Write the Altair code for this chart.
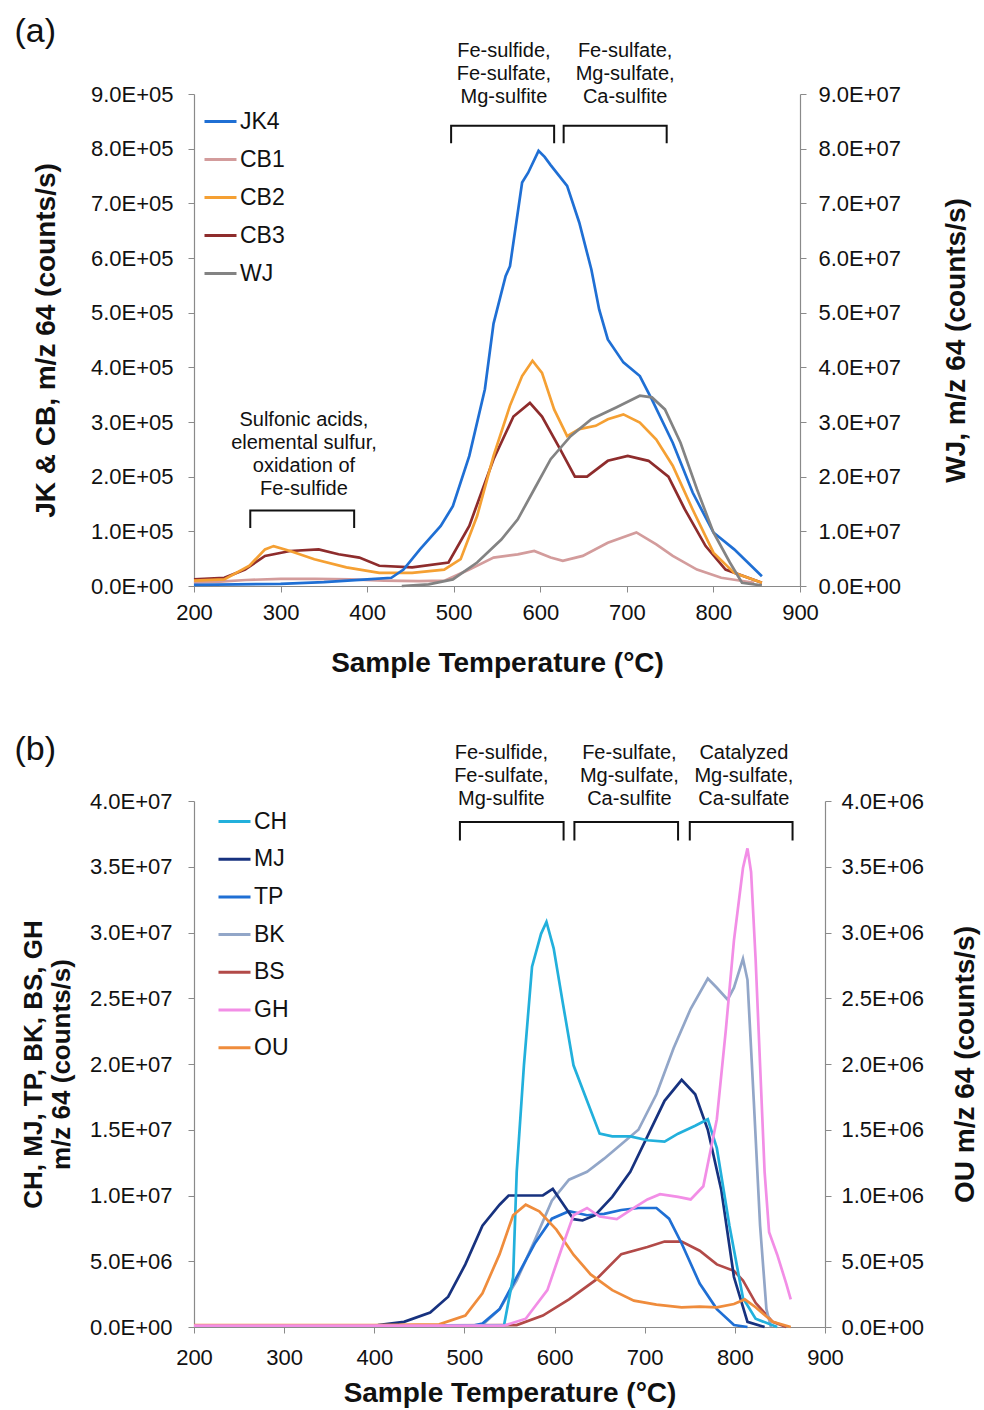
import altair as alt
import pandas as pd

FONT = "Liberation Sans"
INK = "#111111"
AXIS_GRAY = "#8a8a8a"

# ---------------- Panel (a) data ----------------
a_names = ["JK4", "CB1", "CB2", "CB3", "WJ"]
a_colors = ["#1f6fd4", "#d39c9c", "#f5a033", "#8e2c2c", "#838383"]

jk4_t = [200, 250, 300, 350, 400, 428, 442, 461, 485, 499, 518, 536, 546, 560, 565, 579, 586, 598, 605, 612,
         631, 645, 659, 668, 678, 696, 715, 729, 753, 776, 800, 824, 856]
jk4_v = [2e3, 3e3, 4e3, 7e3, 1.2e4, 1.5e4, 3.0e4, 6.7e4, 1.1e5, 1.46e5, 2.38e5, 3.6e5, 4.8e5, 5.67e5, 5.85e5,
         7.38e5, 7.56e5, 7.96e5, 7.85e5, 7.7e5, 7.32e5, 6.65e5, 5.79e5, 5.06e5, 4.51e5, 4.09e5, 3.84e5, 3.41e5,
         2.62e5, 1.71e5, 9.8e4, 6.7e4, 1.8e4]

cb1_t = [200, 230, 260, 300, 340, 380, 420, 460, 490, 518, 546, 574, 593, 612, 626, 649, 678, 711, 734, 753,
         781, 809, 847]
cb1_v = [6e3, 8e3, 1.1e4, 1.3e4, 1.3e4, 1.2e4, 1.0e4, 9e3, 1.0e4, 3.0e4, 5.2e4, 5.8e4, 6.4e4, 5.2e4, 4.6e4,
         5.5e4, 7.9e4, 9.8e4, 7.6e4, 5.5e4, 3.0e4, 1.5e4, 6e3]

cb2_t = [200, 235, 264, 282, 292, 311, 339, 376, 414, 452, 489, 508, 527, 546, 565, 579, 591, 602, 616, 631,
         645, 664, 678, 696, 715, 734, 753, 776, 800, 824, 856]
cb2_v = [1.0e4, 1.2e4, 3.7e4, 6.7e4, 7.3e4, 6.4e4, 4.9e4, 3.4e4, 2.4e4, 2.4e4, 3.0e4, 4.9e4, 1.28e5, 2.38e5,
         3.3e5, 3.84e5, 4.12e5, 3.9e5, 3.23e5, 2.74e5, 2.87e5, 2.93e5, 3.05e5, 3.14e5, 2.99e5, 2.68e5, 2.2e5,
         1.4e5, 6.1e4, 2.4e4, 6e3]

cb3_t = [200, 235, 259, 282, 311, 344, 367, 391, 414, 452, 494, 518, 546, 569, 588, 602, 621, 640, 654, 678,
         701, 725, 748, 767, 791, 814, 856]
cb3_v = [1.2e4, 1.5e4, 3.0e4, 5.5e4, 6.4e4, 6.7e4, 5.8e4, 5.2e4, 3.7e4, 3.4e4, 4.3e4, 1.1e5, 2.32e5, 3.1e5,
         3.35e5, 3.1e5, 2.56e5, 2.0e5, 2.0e5, 2.29e5, 2.38e5, 2.29e5, 2.0e5, 1.4e5, 7.3e4, 3.0e4, 6e3]

wj_t = [440, 471, 499, 527, 555, 574, 593, 612, 635, 659, 687, 715, 729, 744, 762, 781, 800, 819, 833, 856]
wj_v = [0, 3e5, 1.2e6, 4.3e6, 8.5e6, 1.22e7, 1.77e7, 2.32e7, 2.74e7, 3.05e7, 3.26e7, 3.48e7, 3.45e7, 3.23e7,
        2.62e7, 1.77e7, 9.8e6, 4.3e6, 6e5, 1e5]

a_left_ticks = [0, 1e5, 2e5, 3e5, 4e5, 5e5, 6e5, 7e5, 8e5, 9e5]
a_right_ticks = [0, 1e7, 2e7, 3e7, 4e7, 5e7, 6e7, 7e7, 8e7, 9e7]

a_note_labels = ["Fe-sulfide,\nFe-sulfate,\nMg-sulfite",
                 "Fe-sulfate,\nMg-sulfate,\nCa-sulfite",
                 "Sulfonic acids,\nelemental sulfur,\noxidation of\nFe-sulfide"]
a_note_t = [558, 698, 327]
a_note_v = [9.787e5, 9.787e5, 3.037e5]
a_br_t1 = [497, 627, 265]
a_br_t2 = [616, 746, 385]
a_br_top = [8.42e5, 8.42e5, 1.38e5]
a_br_bot = [8.1e5, 8.1e5, 1.06e5]

# ---------------- Panel (b) data ----------------
b_names = ["CH", "MJ", "TP", "BK", "BS", "GH", "OU"]
b_colors = ["#22b0dc", "#17327f", "#1f6fd4", "#92a6c8", "#b24a48", "#f28ee6", "#ef8c3c"]

ch_t = [200, 300, 400, 500, 544, 554, 558, 566, 575, 585, 591, 599, 609, 621, 636, 650, 664, 684, 703, 722,
        737, 756, 770, 780, 794, 809, 823, 847]
ch_v = [1e5, 1e5, 1e5, 1e5, 1.5e5, 3.8e6, 1.18e7, 1.99e7, 2.74e7, 2.99e7, 3.08e7, 2.88e7, 2.47e7, 1.99e7,
        1.72e7, 1.47e7, 1.45e7, 1.45e7, 1.42e7, 1.41e7, 1.47e7, 1.53e7, 1.58e7, 1.36e7, 7.7e6, 2.2e6, 6.3e5, 0]

mj_t = [200, 300, 404, 433, 462, 482, 501, 520, 539, 549, 568, 587, 598, 607, 621, 631, 645, 664, 684, 703,
        722, 741, 756, 770, 785, 799, 814, 833]
mj_v = [1e5, 1e5, 1.5e5, 3.9e5, 1.1e6, 2.3e6, 4.76e6, 7.7e6, 9.3e6, 1.0e7, 1.0e7, 1.0e7, 1.05e7, 9.6e6, 8.2e6,
        8.1e6, 8.5e6, 9.9e6, 1.18e7, 1.45e7, 1.72e7, 1.88e7, 1.77e7, 1.5e7, 1.04e7, 3.8e6, 3.9e5, 0]

tp_t = [200, 400, 510, 520, 539, 558, 578, 597, 616, 636, 655, 674, 693, 713, 727, 741, 761, 780, 799, 814]
tp_v = [1e5, 1e5, 1e5, 2.7e5, 1.36e6, 3.79e6, 6.35e6, 8.24e6, 8.8e6, 8.5e6, 8.6e6, 8.9e6, 9.05e6, 9.05e6,
        8.24e6, 6.35e6, 3.3e6, 1.36e6, 1.5e5, 0]

bk_t = [200, 400, 520, 539, 558, 578, 597, 616, 636, 655, 674, 693, 713, 732, 751, 770, 780, 792, 799, 809,
        814, 821, 828, 835, 840]
bk_v = [1e5, 1e5, 1.5e5, 1.36e6, 3.54e6, 6.6e6, 9.6e6, 1.12e7, 1.18e7, 1.28e7, 1.39e7, 1.5e7, 1.77e7, 2.12e7,
        2.42e7, 2.65e7, 2.58e7, 2.49e7, 2.58e7, 2.8e7, 2.64e7, 1.72e7, 7.7e6, 1.36e6, 0]

bs_t = [200, 400, 558, 587, 616, 645, 674, 703, 722, 741, 761, 780, 799, 809, 823, 842, 857]
bs_v = [1e5, 1e5, 1.5e5, 8.7e5, 2.1e6, 3.54e6, 5.54e6, 6.08e6, 6.5e6, 6.5e6, 5.8e6, 4.76e6, 4.27e6, 3.54e6,
        1.84e6, 3.9e5, 0]

gh_t = [200, 400, 544, 568, 592, 607, 621, 636, 650, 669, 688, 703, 717, 737, 751, 765, 780, 790, 799, 809,
        814, 818, 823, 828, 833, 838, 847, 857, 862]
gh_v = [1e4, 1e4, 1e4, 6.3e4, 2.8e5, 5.8e5, 8.5e5, 9.05e5, 8.4e5, 8.2e5, 9.05e5, 9.7e5, 1.01e6, 9.9e5, 9.7e5,
        1.07e6, 1.58e6, 2.26e6, 2.94e6, 3.49e6, 3.64e6, 3.46e6, 2.8e6, 1.99e6, 1.18e6, 7.2e5, 5.5e5, 3.3e5,
        2.1e5]

ou_t = [200, 300, 400, 472, 501, 520, 539, 554, 568, 583, 602, 621, 640, 664, 688, 713, 741, 761, 780, 799,
        811, 823, 842, 862]
ou_v = [1.5e4, 1.5e4, 1.5e4, 2e4, 8.7e4, 2.57e5, 5.54e5, 8.5e5, 9.3e5, 8.8e5, 7.4e5, 5.5e5, 4.0e5, 2.8e5,
        2.0e5, 1.7e5, 1.5e5, 1.55e5, 1.5e5, 1.75e5, 2.1e5, 1.5e5, 4e4, 0]

b_left_ticks = [0, 5e6, 1e7, 1.5e7, 2e7, 2.5e7, 3e7, 3.5e7, 4e7]
b_right_ticks = [0, 5e5, 1e6, 1.5e6, 2e6, 2.5e6, 3e6, 3.5e6, 4e6]

b_note_labels = ["Fe-sulfide,\nFe-sulfate,\nMg-sulfite",
                 "Fe-sulfate,\nMg-sulfate,\nCa-sulfite",
                 "Catalyzed\nMg-sulfate,\nCa-sulfate"]
b_note_t = [541, 683, 810]
b_note_v = [4.365e7, 4.365e7, 4.365e7]
b_br_t1 = [495, 622, 750]
b_br_t2 = [610, 737, 864]
b_br_top = [3.84e7, 3.84e7, 3.84e7]
b_br_bot = [3.70e7, 3.70e7, 3.70e7]

x_ticks = [200, 300, 400, 500, 600, 700, 800, 900]


# ---------------- helpers ----------------
def long_df(pairs):
    rows = []
    for name, (ts, vs) in pairs.items():
        for t, v in zip(ts, vs):
            rows.append({"T": t, "V": v, "series": name})
    return pd.DataFrame(rows)


def bracket_df(t1s, t2s, tops, bots):
    rows = []
    for i, (t1, t2, top, bot) in enumerate(zip(t1s, t2s, tops, bots)):
        for k, (t, v) in enumerate([(t1, bot), (t1, top), (t2, top), (t2, bot)]):
            rows.append({"id": i, "k": k, "T": t, "V": v})
    return pd.DataFrame(rows)


E = "floor(log(datum.value) / LN10 + 1e-9)"
SCI = (f"datum.value == 0 ? '0.0E+00' : format(datum.value / pow(10, {E}), '.1f') + 'E+' + "
       f"({E} < 10 ? '0' : '') + {E}")


def y_axis(title, values, orient, title_size, title_pad, label_pad, **kw):
    return alt.Axis(title=title, values=values, orient=orient, labelExpr=SCI, grid=False,
                    domainColor=AXIS_GRAY, tickColor=AXIS_GRAY, tickSize=6, domainWidth=1.2,
                    labelFontSize=22, labelFont=FONT, labelColor=INK, labelPadding=label_pad,
                    titleFontSize=title_size, titleFont=FONT, titleFontWeight="bold", titleColor=INK,
                    titlePadding=title_pad, **kw)


def x_axis(label_pad, title_pad):
    return alt.Axis(title="Sample Temperature (°C)", values=x_ticks, format="d", grid=False,
                    domainColor=AXIS_GRAY, tickColor=AXIS_GRAY, tickSize=6, domainWidth=1.2,
                    labelFontSize=22, labelFont=FONT, labelColor=INK, labelPadding=label_pad,
                    labelFlush=False, titleFontSize=28, titleFont=FONT, titleFontWeight="bold",
                    titleColor=INK, titlePadding=title_pad)


def legend(lx, ly, row_pad):
    return alt.Legend(orient="none", legendX=lx, legendY=ly, title=None, symbolType="stroke",
                      symbolSize=1024, symbolStrokeWidth=3, labelFontSize=23, labelFont=FONT,
                      labelColor=INK, labelOffset=2, rowPadding=row_pad, padding=0)


def panel(left_df, right_df, names, colors, notes, brackets, xax, yl_ax, yr_ax, yl_dom, yr_dom, leg,
          width, height, tag, tag_dx, tag_dy):
    x = alt.X("T:Q", scale=alt.Scale(domain=[200, 900], nice=False, zero=False), axis=xax)
    yl = alt.Y("V:Q", scale=alt.Scale(domain=yl_dom, nice=False, zero=False), axis=yl_ax)
    yr = alt.Y("V:Q", scale=alt.Scale(domain=yr_dom, nice=False, zero=False), axis=yr_ax)
    color = alt.Color("series:N", scale=alt.Scale(domain=names, range=colors), legend=leg)
    lines_l = alt.Chart(left_df).mark_line(strokeWidth=2.7).encode(x=x, y=yl, color=color)
    br = alt.Chart(brackets).mark_line(color=INK, strokeWidth=2).encode(
        x=x, y=yl, detail="id:N", order="k:Q")
    txt = alt.Chart(notes).mark_text(font=FONT, fontSize=20, color=INK, lineBreak="\n", lineHeight=23,
                                     align="center", baseline="middle").encode(x=x, y=yl, text="label:N")
    left = alt.layer(lines_l, br, txt)
    right = alt.Chart(right_df).mark_line(strokeWidth=2.7).encode(x=x, y=yr, color=color)
    return alt.layer(left, right).resolve_scale(y="independent").properties(
        width=width, height=height,
        title=alt.TitleParams(tag, anchor="start", frame="bounds", fontSize=34, font=FONT,
                              fontWeight="normal", color=INK, dx=tag_dx, dy=tag_dy, offset=0))


# ---------------- build panels ----------------
a_left = long_df({"CB1": (cb1_t, cb1_v), "CB3": (cb3_t, cb3_v), "CB2": (cb2_t, cb2_v),
                  "JK4": (jk4_t, jk4_v)})
a_right = long_df({"WJ": (wj_t, wj_v)})
a_notes = pd.DataFrame({"T": a_note_t, "V": a_note_v, "label": a_note_labels})
a_br = bracket_df(a_br_t1, a_br_t2, a_br_top, a_br_bot)

panel_a = panel(
    a_left, a_right, a_names, a_colors, a_notes, a_br,
    x_axis(10, 26),
    y_axis("JK & CB, m/z 64 (counts/s)", a_left_ticks, "left", 28, 30, 15),
    y_axis("WJ, m/z 64 (counts/s)", a_right_ticks, "right", 28, 42, 12, titleAngle=270,
           titleBaseline="top"),
    [0, 9e5], [0, 9e7], legend(9, 10, 8), 606, 492, "(a)", -18, 8)

b_left = long_df({"BS": (bs_t, bs_v), "BK": (bk_t, bk_v), "TP": (tp_t, tp_v), "MJ": (mj_t, mj_v),
                  "CH": (ch_t, ch_v)})
b_right = long_df({"OU": (ou_t, ou_v), "GH": (gh_t, gh_v)})
b_notes = pd.DataFrame({"T": b_note_t, "V": b_note_v, "label": b_note_labels})
b_br = bracket_df(b_br_t1, b_br_t2, b_br_top, b_br_bot)

panel_b = panel(
    b_left, b_right, b_names, b_colors, b_notes, b_br,
    x_axis(14, 11),
    y_axis(["CH, MJ, TP, BK, BS, GH", "m/z 64 (counts/s)"], b_left_ticks, "left", 26, 15, 16,
           titleLineHeight=28),
    y_axis("OU m/z 64 (counts/s)", b_right_ticks, "right", 28, 28, 10, titleAngle=270,
           titleBaseline="top"),
    [0, 4e7], [0, 4e6], legend(23, 3, 7.7), 631, 526, "(b)", -6, 24)

chart = alt.vconcat(panel_a, panel_b, spacing=56).resolve_scale(color="independent").configure_view(
    stroke=None).properties(padding={"left": 14, "top": 14, "right": 4, "bottom": 2}, background="white")

chart.save("out.html", embed_options={"renderer": "svg", "actions": False})
